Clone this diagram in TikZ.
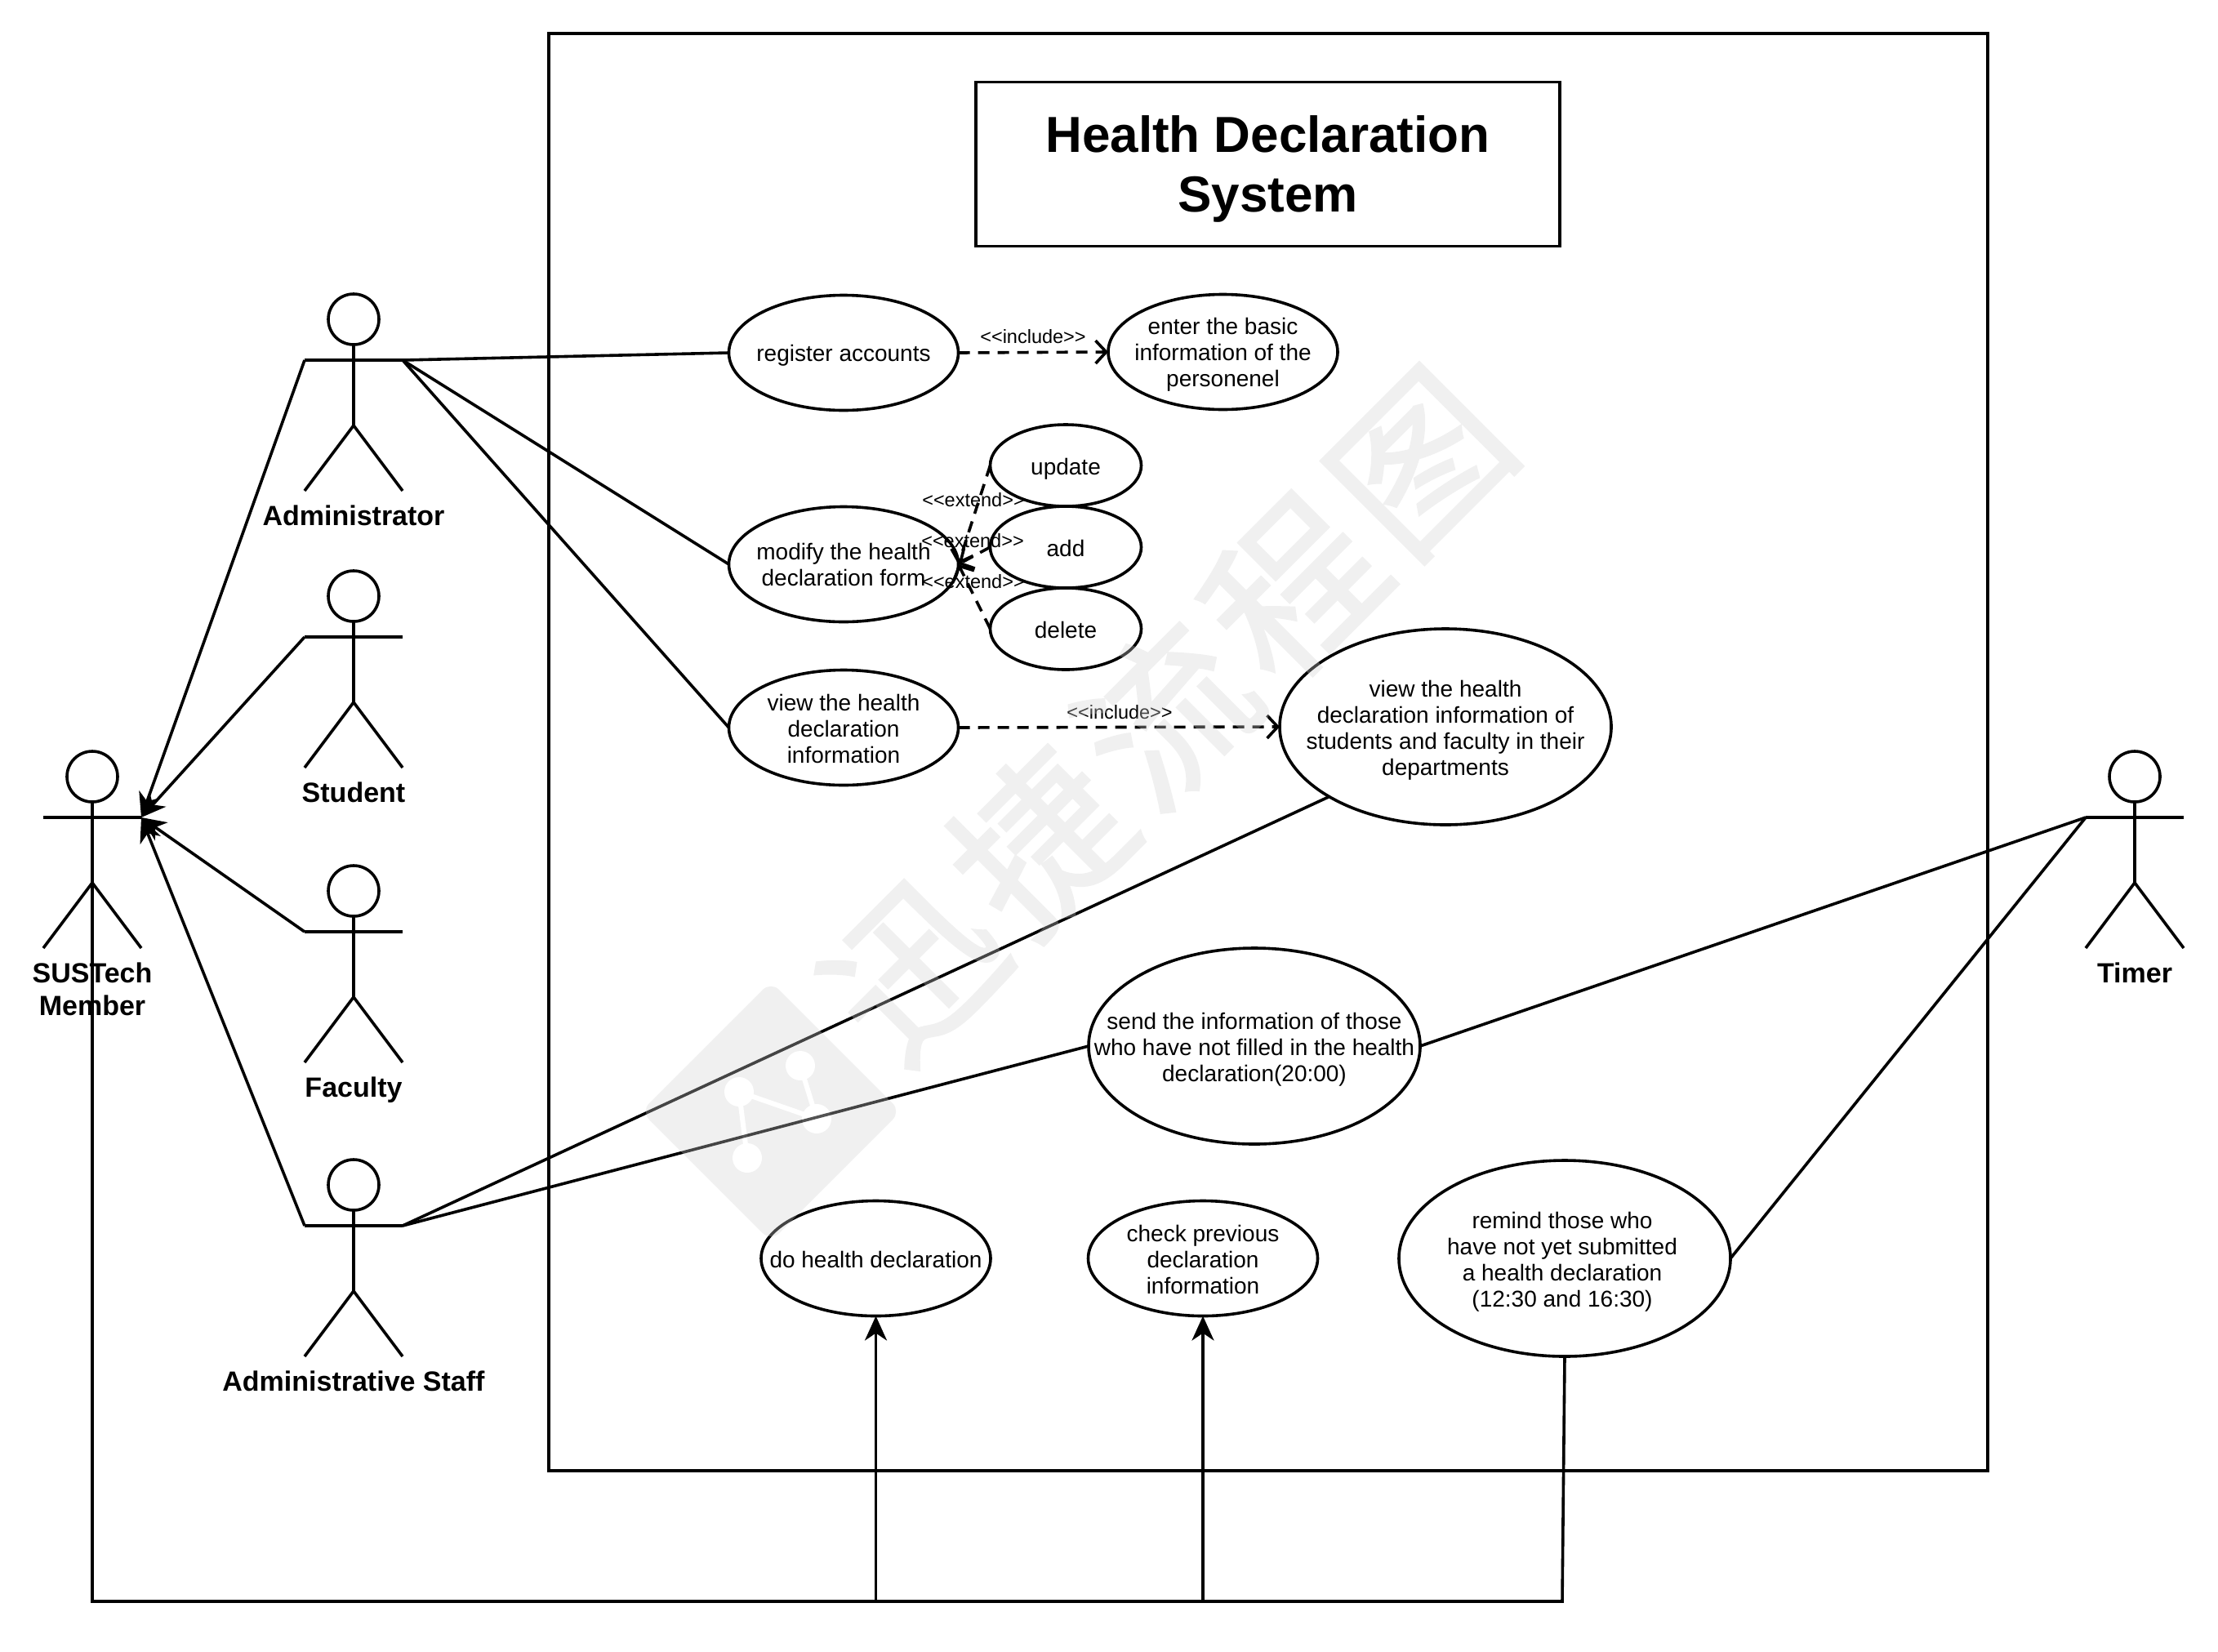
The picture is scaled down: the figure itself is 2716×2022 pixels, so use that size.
\documentclass[tikz,border=0pt]{standalone}
\usepackage{fontspec}
\setmainfont{Liberation Sans}
\newfontfamily\cjkwm[LetterSpace=7,FakeBold=1.5]{Noto Sans CJK SC}
\usetikzlibrary{arrows.meta,shapes.geometric}
\definecolor{wm}{HTML}{D1D1D1}
\tikzset{
  ln/.style={line width=3.6pt,black},
  usecase/.style={ellipse,draw,line width=3.6pt,fill=none,inner sep=0pt,outer sep=0pt},
  uctext/.style={inner sep=0pt,align=center,font=\fontsize{28}{32}\selectfont,yshift=-1pt},
  uc/.style={usecase,minimum width=281pt,minimum height=141pt},
  ucs/.style={usecase,minimum width=185pt,minimum height=100pt},
  ucb/.style={usecase,minimum width=406pt,minimum height=240pt},
  gen/.style={ln,-{Stealth[length=30pt,width=27pt,inset=9pt]}},
  dep/.style={ln,dash pattern=on 14pt off 10pt,-{Straight Barb[length=13pt,width=28pt]}},
  tag/.style={font=\fontsize{23.5}{26}\selectfont,inner sep=0pt},
  actorname/.style={font=\bfseries\fontsize{34}{40}\selectfont,align=center,inner sep=0pt,anchor=north},
  headc/.style={circle,draw,line width=3.6pt,minimum size=62pt,inner sep=0pt,outer sep=0pt},
  titlebox/.style={draw,line width=3.6pt,minimum width=715pt,minimum height=201pt,inner sep=0pt},
  titletext/.style={align=center,font=\bfseries\fontsize{62}{73}\selectfont,inner sep=0pt,yshift=-6pt},
  wmtext/.style={font=\cjkwm\fontsize{205}{205}\selectfont,text=wm,inner sep=0pt}
}
\newcommand{\actorfig}[4]{% name, x, arm y, label
  \node[headc] (#1head) at (#2,#3-50) {};
  \coordinate (#1L) at (#2-60,#3);
  \coordinate (#1R) at (#2+60,#3);
  \coordinate (#1hip) at (#2,#3+80);
  \coordinate (#1fl) at (#2-60,#3+160);
  \coordinate (#1fr) at (#2+60,#3+160);
  \draw[ln] (#1head.south) -- (#1hip);
  \draw[ln] (#1L) -- (#1R);
  \draw[ln] (#1fl) -- (#1hip) -- (#1fr);
  \node[actorname] (#1name) at (#2,#3+178) {#4};
}
\begin{document}
\begin{tikzpicture}[x=1pt,y=-1pt]
\useasboundingbox (0,0) rectangle (2716,2022);
\fill[white] (0,0) rectangle (2716,2022);
% frame and title
\draw[ln] (672,41) rectangle (2434,1801);
\node[titlebox,label={[titletext]center:{Health Declaration\\System}}] (title) at (1552.5,201) {};
% actors
\actorfig{member}{113}{1001}{SUSTech\\Member}
\actorfig{admin}{433}{441}{Administrator}
\actorfig{student}{433}{780}{Student}
\actorfig{faculty}{433}{1141}{Faculty}
\actorfig{staff}{433}{1501}{Administrative Staff}
\actorfig{timer}{2614}{1001}{Timer}
% use cases
\node[uc,label={[uctext,yshift=-2pt]center:{register accounts}}] (register) at (1033,432) {};
\node[uc,label={[uctext,yshift=-2.5pt]center:{enter the basic\\information of the\\personenel}}] (enter) at (1497.5,431) {};
\node[uc,label={[uctext,yshift=0.5pt]center:{modify the health\\declaration form}}] (modify) at (1033,691) {};
\node[uc,label={[uctext]center:{view the health\\declaration\\information}}] (view) at (1033,891) {};
\node[ucs,label={[uctext,yshift=-3.5pt]center:{update}}] (update) at (1305,570) {};
\node[ucs,label={[uctext]center:{add}}] (add) at (1305,670) {};
\node[ucs,label={[uctext]center:{delete}}] (delete) at (1305,770) {};
\node[ucb,label={[uctext,yshift=-3.5pt]center:{view the health\\declaration information of\\students and faculty in their\\departments}}] (depts) at (1770,890) {};
\node[ucb,label={[uctext,yshift=-3.5pt]center:{send the information of those\\who have not filled in the health\\declaration(20:00)}}] (send) at (1536,1281) {};
\node[ucb,label={[uctext,xshift=-3pt,yshift=-3.5pt]center:{remind those who\\have not yet submitted\\a health declaration\\(12:30 and 16:30)}}] (remind) at (1916,1541) {};
\node[uc,label={[uctext]center:{do health declaration}}] (dohealth) at (1072.5,1541) {};
\node[uc,label={[uctext]center:{check previous\\declaration\\information}}] (check) at (1473,1541) {};
% associations
\draw[ln] (adminR) -- (register.west);
\draw[ln] (adminR) -- (modify.west);
\draw[ln] (adminR) -- (view.west);
\draw[ln] (staffR) -- (depts.211);
\draw[ln] (staffR) -- (send.west);
\draw[ln] (send.east) -- (timerL);
\draw[ln] (remind.east) -- (timerL);
% generalisation
\draw[gen] (adminL) -- (memberR);
\draw[gen] (studentL) -- (memberR);
\draw[gen] (facultyL) -- (memberR);
\draw[gen] (staffL) -- (memberR);
% include / extend
\draw[dep] (register.east) -- (enter.west);
\draw[dep] (view.east) -- (depts.west);
\draw[dep] (update.west) -- (modify.east);
\draw[dep] (add.west) -- (modify.east);
\draw[dep] (delete.west) -- (modify.east);
\node[tag] (t1) at (1265,412) {<{}<include>{}>};
\node[tag] (t2) at (1371,872) {<{}<include>{}>};
\node[tag] (t3) at (1192,612) {<{}<extend>{}>};
\node[tag] (t4) at (1191,662) {<{}<extend>{}>};
\node[tag] (t5) at (1192,712) {<{}<extend>{}>};
% bottom bus
\coordinate (busL) at (113,1961);
\coordinate (busR) at (1913,1961);
\coordinate (busA) at (dohealth.south |- busL);
\coordinate (busB) at (check.south |- busL);
\draw[ln] (memberhip) -- (busL) -- (busR) -- (remind.south);
\draw[gen] (busA) -- (dohealth.south);
\draw[gen] (busB) -- (check.south);
% watermark overlay
\begin{scope}[transparency group,opacity=0.325]
\fill[wm,rounded corners=14pt] (944,1202) -- (1103,1361) -- (944,1520) -- (785,1361) -- cycle;
\draw[white,line width=6pt] (980,1305) -- (1000,1370) -- (905,1337) -- (915,1418);
\fill[white] (980,1305) circle (18) (1000,1370) circle (18) (905,1337) circle (18) (915,1418) circle (18);
\node[wmtext,rotate=45] (wmark) at (1428,875) {迅捷流程图};
\end{scope}
\end{tikzpicture}
\end{document}
